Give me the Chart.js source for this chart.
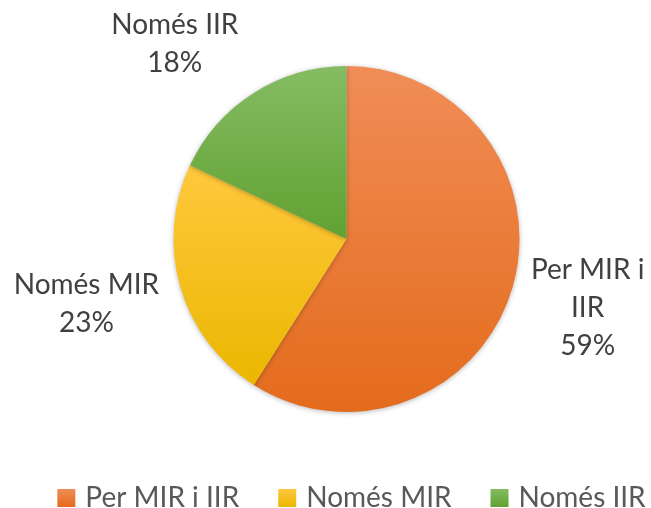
<!DOCTYPE html>
<html>
<head>
<meta charset="utf-8">
<script src="https://cdn.jsdelivr.net/npm/chart.js@4/dist/chart.umd.min.js"></script>
<style>
  html, body { margin: 0; padding: 0; background: #fff; }
  #wrap { width: 651px; height: 508px; }
</style>
</head>
<body>
<div id="wrap"><canvas id="chart"></canvas></div>
<script>
// data
const categories = ['Per MIR i IIR', 'Només MIR', 'Només IIR'];
const labelLines = [['Per MIR i', 'IIR'], ['Només MIR'], ['Només IIR']];
const shares = [59, 23, 18];

// styling
const topColors = ['#F08D57', '#FFC83D', '#85BC63'];
const bottomColors = ['#E46B1C', '#EBB700', '#61A131'];
const midColors = ['#ED7D31', '#FFC000', '#70AD47'];
// label shift (px) from the slice's outer mid point
const labelShift = [[75, 21], [-94, 17], [-79, -49]];
const RADIUS = 173;
const FONT = 'Lato';

function sliceGradient(context){
  const chart = context.chart;
  const area = chart.chartArea;
  const i = context.dataIndex;
  if(!area) return midColors[i];
  const cx = (area.left + area.right) / 2;
  const cy = (area.top + area.bottom) / 2;
  const total = shares.reduce((a, b) => a + b, 0);
  let a0 = -Math.PI / 2;
  for(let k = 0; k < i; k++) a0 += shares[k] / total * Math.PI * 2;
  const a1 = a0 + shares[i] / total * Math.PI * 2;
  const ys = [cy, cy + RADIUS * Math.sin(a0), cy + RADIUS * Math.sin(a1)];
  // include top / bottom extremes if the slice passes them
  [Math.PI / 2, Math.PI * 1.5, -Math.PI / 2].forEach(a => {
    if(a > a0 && a < a1) ys.push(cy + RADIUS * Math.sin(a));
  });
  const y0 = Math.min(...ys), y1 = Math.max(...ys);
  const g = chart.ctx.createLinearGradient(0, y0, 0, y1);
  g.addColorStop(0, topColors[i]);
  g.addColorStop(1, bottomColors[i]);
  return g;
}

const shadowPlugin = {
  id: 'pieShadow',
  beforeDatasetsDraw(chart){
    const ctx = chart.ctx;
    ctx.save();
    ctx.shadowColor = 'rgba(0,0,0,0.28)';
    ctx.shadowBlur = 5;
    ctx.shadowOffsetY = 1;
  },
  afterDatasetsDraw(chart){
    chart.ctx.restore();
  }
};

const outsideLabels = {
  id: 'outsideLabels',
  afterDraw(chart){
    const ctx = chart.ctx;
    const meta = chart.getDatasetMeta(0);
    ctx.save();
    ctx.font = `28px ${FONT}`;
    ctx.fillStyle = '#404040';
    ctx.textAlign = 'center';
    ctx.textBaseline = 'middle';
    const lh = 38;
    meta.data.forEach((el, i) => {
      const mid = (el.startAngle + el.endAngle) / 2;
      const x = el.x + Math.cos(mid) * el.outerRadius + labelShift[i][0];
      const y = el.y + Math.sin(mid) * el.outerRadius + labelShift[i][1];
      const lines = [...labelLines[i], shares[i] + '%'];
      const startY = y - (lines.length - 1) * lh / 2;
      lines.forEach((t, j) => ctx.fillText(t, x, startY + j * lh));
    });
    ctx.restore();
  }
};

// bottom legend, drawn by hand so it stays on one row
const bottomLegend = {
  id: 'bottomLegend',
  afterDraw(chart){
    const ctx = chart.ctx;
    const box = 18, boxGap = 10, itemGap = 39;
    ctx.save();
    ctx.font = `28px ${FONT}`;
    ctx.textBaseline = 'middle';
    ctx.textAlign = 'left';
    const widths = categories.map(c => ctx.measureText(c).width);
    const total = widths.reduce((a, w) => a + box + boxGap + w, 0) + itemGap * (categories.length - 1);
    const area = chart.chartArea;
    let x = (area.left + area.right) / 2 + 5 - total / 2;
    const y = chart.height - 10;
    categories.forEach((c, i) => {
      const g = ctx.createLinearGradient(0, y - box / 2, 0, y + box / 2);
      g.addColorStop(0, topColors[i]);
      g.addColorStop(1, bottomColors[i]);
      ctx.fillStyle = g;
      ctx.fillRect(x, y - box / 2, box, box);
      ctx.fillStyle = '#595959';
      ctx.fillText(c, x + box + boxGap, y);
      x += box + boxGap + widths[i] + itemGap;
    });
    ctx.restore();
  }
};

new Chart(document.getElementById('chart').getContext('2d'), {
  type: 'pie',
  data: {
    labels: categories,
    datasets: [{
      data: shares,
      backgroundColor: sliceGradient,
      borderWidth: 0,
      radius: RADIUS,
    }]
  },
  options: {
    responsive: true,
    maintainAspectRatio: false,
    animation: false,
    layout: { padding: { left: 42, right: 0, top: 20, bottom: 50 } },
    plugins: {
      tooltip: { enabled: false },
      legend: { display: false }
    }
  },
  plugins: [shadowPlugin, outsideLabels, bottomLegend]
});
</script>
</body>
</html>
